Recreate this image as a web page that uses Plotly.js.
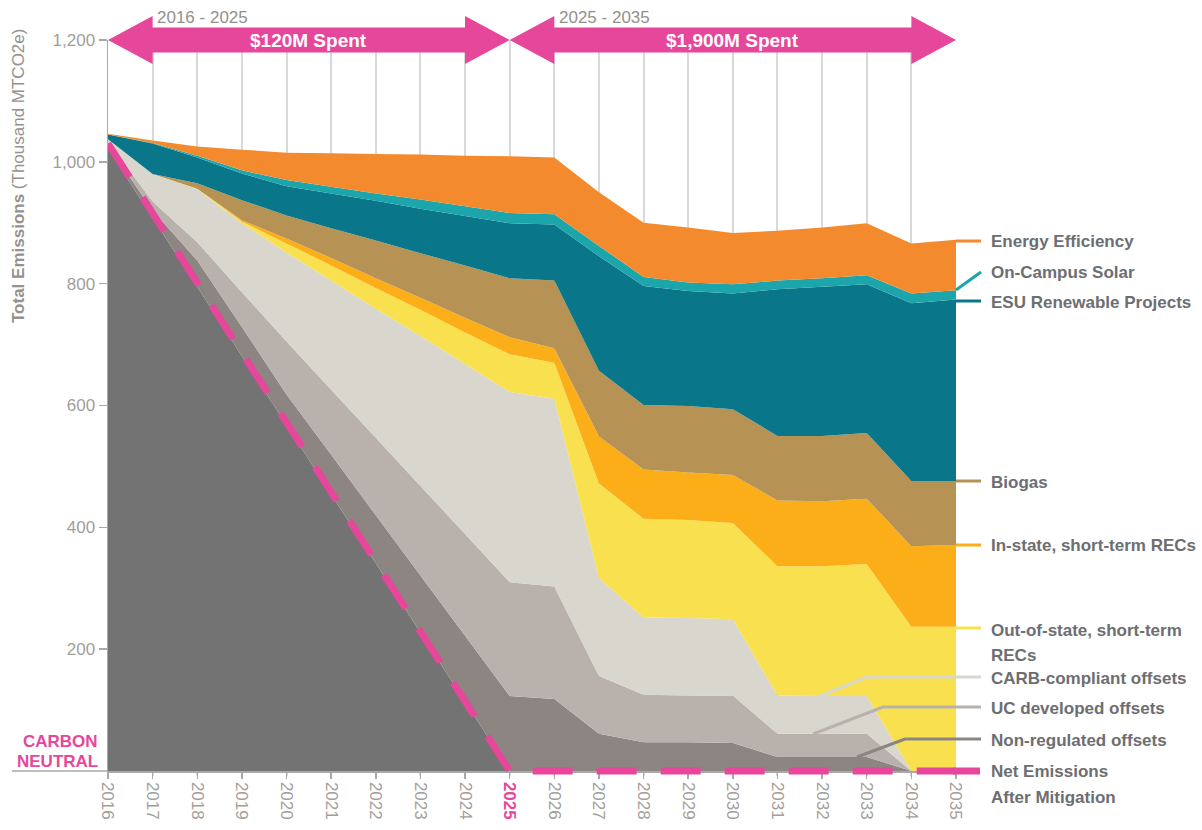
<!DOCTYPE html>
<html>
<head>
<meta charset="utf-8">
<script src="https://cdn.plot.ly/plotly-3.0.1.min.js"></script>
<style>
  html, body { margin: 0; padding: 0; background: #ffffff; }
  #chart { width: 1202px; height: 830px; }
</style>
</head>
<body>
<div id="chart"></div>
<script>
// ---------------- DATA (thousand MTCO2e) ----------------
const years = [2016, 2017, 2018, 2019, 2020, 2021, 2022, 2023, 2024, 2025,
               2026, 2027, 2028, 2029, 2030, 2031, 2032, 2033, 2034, 2035];

const netEmissions      = [1022, 908, 795, 681, 568, 454, 341, 227, 114, 0, 0, 0, 0, 0, 0, 0, 0, 0, 0, 0];
const nonRegulated      = [5, 12, 43, 48, 50, 65, 79, 94, 108, 123, 118, 61, 47, 47, 46, 23, 23, 23, 0, 0];
const ucDeveloped       = [5, 15, 30, 57, 87, 107, 127, 147, 167, 187, 185, 95, 78, 77, 78, 38, 38, 38, 0, 0];
const carbCompliant     = [5, 45, 87, 113, 146, 179, 212, 246, 279, 312, 308, 161, 127, 127, 125, 63, 62, 62, 0, 0];
const outOfStateRECs    = [0, 0, 1, 3, 15, 25, 34, 43, 52, 62, 59, 155, 162, 161, 158, 212, 213, 217, 237, 237];
const inStateRECs       = [0, 0, 0, 2, 8, 12, 16, 20, 24, 28, 24, 77, 81, 78, 79, 108, 107, 107, 132, 134];
const biogas            = [0, 0, 9, 33, 38, 49, 62, 73, 86, 97, 111, 108, 106, 109, 108, 106, 107, 108, 107, 105];
const esuRenewable      = [8, 50, 42, 44, 48, 57, 65, 73, 81, 90, 92, 188, 195, 189, 190, 241, 245, 244, 292, 298];
const onCampusSolar     = [0, 1, 3, 5, 10, 11, 12, 15, 16, 17, 17, 17, 15, 14, 15, 14, 14, 15, 16, 15];
const energyEfficiency  = [1, 4, 15, 34, 45, 55, 65, 74, 83, 93, 93, 88, 89, 90, 84, 82, 83, 85, 82, 83];

// carbon-neutral target path (pink dashed line)
const targetYears  = [2016, 2025, 2035];
const targetValues = [1030, 0, 0];

const yTickVals = [200, 400, 600, 800, 1000, 1200];
const yTickText = ['200', '400', '600', '800', '1,000', '1,200'];

const periodLabels = ['2016 - 2025', '2025 - 2035'];
const spendLabels  = ['$120M Spent', '$1,900M Spent'];

// ---------------- STYLE ----------------
const PINK = '#e6479a';
const LABEL = '#6d6e71';
const TICKC = '#a39e9a';
const FONT = 'Liberation Sans, Arial, Helvetica, sans-serif';

const layers = [
  {name: 'Net Emissions After Mitigation', y: netEmissions,     color: '#737373'},
  {name: 'Non-regulated offsets',          y: nonRegulated,     color: '#8c8582'},
  {name: 'UC developed offsets',           y: ucDeveloped,      color: '#b9b1ab'},
  {name: 'CARB-compliant offsets',         y: carbCompliant,    color: '#d9d6cd'},
  {name: 'Out-of-state, short-term RECs',  y: outOfStateRECs,   color: '#f8e04f'},
  {name: 'In-state, short-term RECs',      y: inStateRECs,      color: '#fbae17'},
  {name: 'Biogas',                         y: biogas,           color: '#b69355'},
  {name: 'ESU Renewable Projects',         y: esuRenewable,     color: '#0a768a'},
  {name: 'On-Campus Solar',                y: onCampusSolar,    color: '#1ca5ab'},
  {name: 'Energy Efficiency',              y: energyEfficiency, color: '#f38b2e'}
];

const traces = layers.map(l => ({
  type: 'scatter', x: years, y: l.y, name: l.name,
  stackgroup: 'one', mode: 'none', fillcolor: l.color,
  line: {width: 0}, hoverinfo: 'skip'
}));

traces.push({
  type: 'scatter', x: targetYears, y: targetValues, mode: 'lines',
  line: {color: PINK, width: 7, dash: '40px,24px'}, hoverinfo: 'skip', name: 'target'
});

// ---------------- GEOMETRY HELPERS (pixel -> paper) ----------------
const L = 108, R = 956, T = 40, B = 776;
const px = v => (v - L) / (R - L);
const py = v => (B - v) / (B - T);

const shapes = [];
const annotations = [];

// double-headed arrows at the top
function arrowPath(x0, x1) {
  const hh = 24 / (B - T), bh = 12.5 / (B - T);
  return `M${x0},1 L${x0 + 1},${1 + hh} L${x0 + 1},${1 + bh} L${x1 - 1},${1 + bh} L${x1 - 1},${1 + hh} L${x1},1 ` +
         `L${x1 - 1},${1 - hh} L${x1 - 1},${1 - bh} L${x0 + 1},${1 - bh} L${x0 + 1},${1 - hh} Z`;
}
shapes.push({type: 'path', xref: 'x', yref: 'paper', path: arrowPath(2016, 2025), fillcolor: PINK, line: {width: 0}, layer: 'above'});
shapes.push({type: 'path', xref: 'x', yref: 'paper', path: arrowPath(2025, 2035), fillcolor: PINK, line: {width: 0}, layer: 'above'});

annotations.push({xref: 'x', yref: 'paper', x: 2017.05, y: py(17), text: periodLabels[0], showarrow: false, xanchor: 'left', yanchor: 'middle', font: {family: FONT, size: 17, color: '#948f8b'}});
annotations.push({xref: 'x', yref: 'paper', x: 2026.05, y: py(17), text: periodLabels[1], showarrow: false, xanchor: 'left', yanchor: 'middle', font: {family: FONT, size: 17, color: '#948f8b'}});
annotations.push({xref: 'x', yref: 'paper', x: 2020.5, y: 1, text: '<b>' + spendLabels[0] + '</b>', showarrow: false, xanchor: 'center', yanchor: 'middle', font: {family: FONT, size: 19, color: '#ffffff'}});
annotations.push({xref: 'x', yref: 'paper', x: 2030, y: 1, text: '<b>' + spendLabels[1] + '</b>', showarrow: false, xanchor: 'center', yanchor: 'middle', font: {family: FONT, size: 19, color: '#ffffff'}});

// x-axis line extension under "CARBON NEUTRAL"
shapes.push({type: 'line', xref: 'paper', yref: 'paper', x0: px(12), x1: 0, y0: py(771), y1: py(771), line: {color: '#a9a9a9', width: 1.5}});
annotations.push({xref: 'paper', yref: 'paper', x: px(100), y: py(741), text: '<b>CARBON</b>', showarrow: false, xanchor: 'right', yanchor: 'middle', font: {family: FONT, size: 17, color: PINK}});
annotations.push({xref: 'paper', yref: 'paper', x: px(100), y: py(761), text: '<b>NEUTRAL</b>', showarrow: false, xanchor: 'right', yanchor: 'middle', font: {family: FONT, size: 17, color: PINK}});

// y-axis title
annotations.push({xref: 'paper', yref: 'paper', x: px(18), y: py(176), textangle: -90, showarrow: false,
  text: '<b>Total Emissions</b> (Thousand MTCO2e)', xanchor: 'center', yanchor: 'middle',
  font: {family: FONT, size: 17, color: '#95918e'}});

// right-hand labels with connector lines
function connector(points, color, width) {
  let path = '';
  points.forEach((p, i) => { path += (i ? ' L' : 'M') + px(p[0]) + ',' + py(p[1]); });
  shapes.push({type: 'path', xref: 'paper', yref: 'paper', path: path, line: {color: color, width: width || 3}, layer: 'above'});
}
connector([[956, 241], [981, 241]], '#f38b2e');
connector([[956, 290], [981, 272]], '#1ca5ab');
connector([[956, 301], [981, 301]], '#0a768a');
connector([[956, 481], [981, 481]], '#b69355');
connector([[956, 545], [981, 545]], '#fbae17');
connector([[956, 628], [981, 628]], '#f8e04f');
connector([[820, 696], [867, 677], [981, 677]], '#d9d6cd');
connector([[813, 734], [883, 707], [981, 707]], '#b9b1ab');
connector([[857, 757], [905, 739], [981, 739]], '#8c8582');
connector([[953, 771], [980, 771]], PINK, 7);

const legendLabels = [
  ['Energy Efficiency', 241], ['On-Campus Solar', 272], ['ESU Renewable Projects', 302],
  ['Biogas', 482], ['In-state, short-term RECs', 545], ['Out-of-state, short-term', 630],
  ['RECs', 655], ['CARB-compliant offsets', 678], ['UC developed offsets', 708],
  ['Non-regulated offsets', 740], ['Net Emissions', 771], ['After Mitigation', 797]
];
legendLabels.forEach(d => annotations.push({
  xref: 'paper', yref: 'paper', x: px(989), y: py(d[1]), text: '<b>' + d[0] + '</b>',
  showarrow: false, xanchor: 'left', yanchor: 'middle', font: {family: FONT, size: 17, color: LABEL}
}));

const xTickText = years.map(y => y === 2025 ? '<b><span style="color:' + PINK + '">2025</span></b>' : String(y));

const layout = {
  width: 1202, height: 830,
  margin: {l: L, r: 1202 - R, t: T, b: 830 - B, pad: 0},
  paper_bgcolor: '#ffffff', plot_bgcolor: '#ffffff',
  showlegend: false,
  font: {family: FONT},
  xaxis: {
    range: [2016, 2035], tickvals: years, ticktext: xTickText, tickangle: 90,
    tickfont: {family: FONT, size: 17, color: TICKC},
    showgrid: true, gridcolor: '#d9d9d9', gridwidth: 2,
    showline: true, linecolor: '#a9a9a9', linewidth: 1.5,
    ticks: 'outside', ticklen: 6, tickcolor: '#a9a9a9', tickwidth: 1.5,
    zeroline: false, anchor: 'free', position: py(771), automargin: false, fixedrange: true,
    layer: 'below traces'
  },
  yaxis: {
    range: [-5, 1200],
    tickvals: yTickVals, ticktext: yTickText,
    tickfont: {family: FONT, size: 17, color: TICKC},
    showgrid: false, zeroline: false,
    showline: true, linecolor: '#a9a9a9', linewidth: 1.5,
    ticks: 'outside', ticklen: 8, tickcolor: '#a9a9a9', tickwidth: 1.5,
    automargin: false, fixedrange: true
  },
  shapes: shapes,
  annotations: annotations
};

// keep the 0 line exactly at pixel 771: solve the range so 1200 sits at T and 0 at 771
(function () {
  const pxPerUnit = (771 - T) / 1200;
  layout.yaxis.range = [-(B - 771) / pxPerUnit, 1200];
})();

Plotly.newPlot('chart', traces, layout, {displayModeBar: false, staticPlot: true});
</script>
</body>
</html>
